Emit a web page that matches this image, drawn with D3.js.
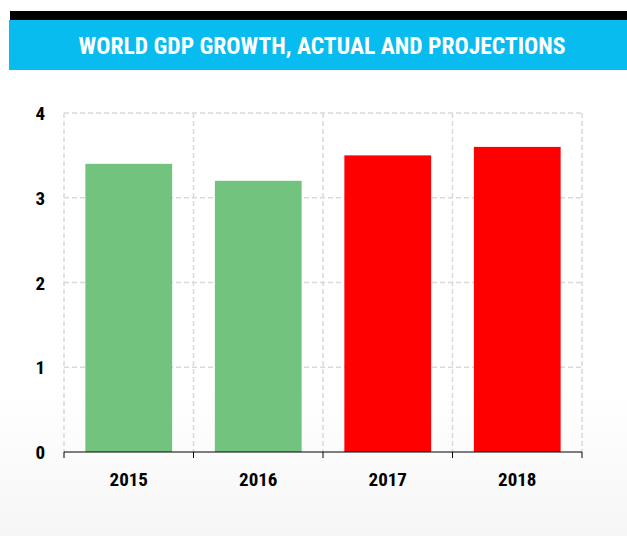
<!DOCTYPE html>
<html>
<head>
<meta charset="utf-8">
<script src="https://cdn.jsdelivr.net/npm/d3@7"></script>
<style>
  body { margin: 0; background: #fff; }
  svg { display: block; }
</style>
</head>
<body>
<svg width="627" height="536"></svg>
<script>
const years = ['2015', '2016', '2017', '2018'];
const growth = [3.4, 3.2, 3.5, 3.6];
const kinds = ['actual', 'actual', 'projection', 'projection'];
const yTicks = [0, 1, 2, 3, 4];
const title = 'WORLD GDP GROWTH, ACTUAL AND PROJECTIONS';

const colors = { actual: '#71c37d', projection: '#ff0000' };
const condensed = '"Liberation Sans Narrow", "Arial Narrow", "Roboto Condensed", "Liberation Sans", sans-serif';

const svg = d3.select('svg');
const width = 627;

// faint grey wash at the bottom of the slide
const grad = svg.append('defs').append('linearGradient')
  .attr('id', 'wash').attr('x1', 0).attr('y1', 0).attr('x2', 0).attr('y2', 1);
grad.append('stop').attr('offset', '0%').attr('stop-color', '#fff');
grad.append('stop').attr('offset', '100%').attr('stop-color', '#f6f6f6');
svg.append('rect').attr('x', 0).attr('y', 390).attr('width', width).attr('height', 146).attr('fill', 'url(#wash)');

// header
svg.append('rect').attr('x', 10).attr('y', 11).attr('width', width - 10).attr('height', 10).attr('fill', '#000');
svg.append('rect').attr('x', 9).attr('y', 20).attr('width', width - 9).attr('height', 50).attr('fill', '#08bcef');
svg.append('text')
  .attr('x', 322).attr('y', 54)
  .attr('text-anchor', 'middle')
  .attr('fill', '#fff')
  .attr('textLength', 487)
  .attr('lengthAdjust', 'spacingAndGlyphs')
  .style('font-family', condensed)
  .style('font-weight', 'bold')
  .style('font-size', '24px')
  .text(title);

const margin = { left: 64, right: 45, top: 113, bottom: 84 };
const x = d3.scaleBand()
  .domain(years)
  .range([margin.left, width - margin.right])
  .paddingInner(0.33)
  .paddingOuter(0.165);
const y = d3.scaleLinear().domain([0, 4]).range([452, margin.top]);

const step = x.step();
const bounds = years.map(d => x(d) - step * 0.165).concat([width - margin.right]);

// grid
const grid = svg.append('g').attr('stroke', '#d9d9d9').attr('stroke-width', 1.5).attr('stroke-dasharray', '5,3');
grid.selectAll('.h').data(yTicks.slice(1)).enter().append('line')
  .attr('x1', margin.left).attr('x2', width - margin.right)
  .attr('y1', d => y(d)).attr('y2', d => y(d));
grid.selectAll('.v').data(bounds).enter().append('line')
  .attr('x1', d => d).attr('x2', d => d)
  .attr('y1', y(4)).attr('y2', y(0));

// bars
svg.append('g').selectAll('rect')
  .data(years)
  .enter()
  .append('rect')
  .attr('x', d => x(d))
  .attr('width', x.bandwidth())
  .attr('y', (d, i) => y(growth[i]))
  .attr('height', (d, i) => y(0) - y(growth[i]))
  .attr('fill', (d, i) => colors[kinds[i]]);

// x axis
const axis = svg.append('g');
axis.append('line')
  .attr('x1', margin.left).attr('x2', width - margin.right)
  .attr('y1', y(0)).attr('y2', y(0))
  .attr('stroke', '#000').attr('stroke-width', 1.2);
axis.selectAll('.tick').data(bounds).enter().append('line')
  .attr('x1', d => d).attr('x2', d => d)
  .attr('y1', y(0)).attr('y2', y(0) + 6)
  .attr('stroke', '#000');
axis.selectAll('text').data(years).enter().append('text')
  .attr('x', d => x(d) + x.bandwidth() / 2)
  .attr('y', 486)
  .attr('text-anchor', 'middle')
  .style('font-family', condensed)
  .style('font-weight', 'bold')
  .style('font-size', '19px')
  .text(d => d);

// y labels
svg.append('g').selectAll('text').data(yTicks).enter().append('text')
  .attr('x', 45)
  .attr('y', d => y(d) + 7)
  .attr('text-anchor', 'end')
  .style('font-family', condensed)
  .style('font-weight', 'bold')
  .style('font-size', '19px')
  .text(d => d);
</script>
</body>
</html>
